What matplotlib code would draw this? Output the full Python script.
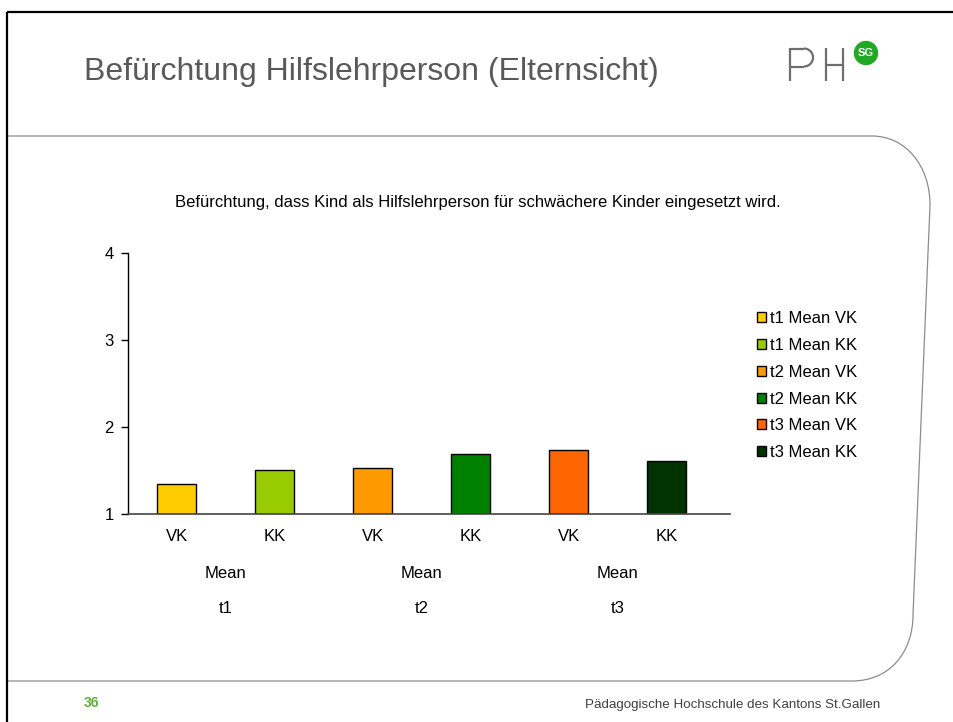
import matplotlib.pyplot as plt
import numpy as np
from matplotlib.path import Path
from matplotlib.patches import PathPatch, Circle

plt.rcParams['font.family'] = ['Liberation Sans', 'DejaVu Sans']

# data
groups = ['t1', 't2', 't3']
subgroups = ['VK', 'KK']
series = ['t1 Mean VK', 't1 Mean KK', 't2 Mean VK', 't2 Mean KK', 't3 Mean VK', 't3 Mean KK']
means = [1.34, 1.51, 1.53, 1.69, 1.74, 1.61]
bar_colors = ['#FFCC00', '#99CC00', '#FF9900', '#008000', '#FF6600', '#003300']

W, H = 954, 722
fig = plt.figure(figsize=(W / 100, H / 100), dpi=100)

# slide decoration layer (pixel coordinates)
ov = fig.add_axes([0, 0, 1, 1], zorder=0)
ov.set_xlim(0, W)
ov.set_ylim(H, 0)
ov.axis('off')
ov.plot([7, W], [12, 12], color='black', lw=1.6, solid_capstyle='butt')
ov.plot([7, 7], [12, H], color='black', lw=1.6, solid_capstyle='butt')
verts = [(7, 136), (872, 136),
         (905, 136), (930, 165), (930, 205),
         (913, 615),
         (913, 652), (890, 681), (852, 681),
         (7, 681)]
codes = [Path.MOVETO, Path.LINETO,
         Path.CURVE4, Path.CURVE4, Path.CURVE4,
         Path.LINETO,
         Path.CURVE4, Path.CURVE4, Path.CURVE4,
         Path.LINETO]
ov.add_patch(PathPatch(Path(verts, codes), facecolor='none', edgecolor='#8c8c8c', lw=0.9))

ov.text(84, 72, 'Befürchtung Hilfslehrperson (Elternsicht)', fontsize=23,
        color='#595959', ha='left', va='center')

# PH logo
lg = dict(color='#6e6e6e', lw=1.6, solid_capstyle='butt')
ov.plot([790, 790], [48, 81], **lg)
ov.plot([790, 804], [48.5, 48.5], **lg)
t = np.linspace(-np.pi / 2, np.pi / 2, 30)
ov.plot(804 + 9 * np.cos(t), 57.5 + 9 * np.sin(t), **lg)
ov.plot([790, 804], [66.5, 66.5], **lg)
ov.plot([826, 826], [48, 81], **lg)
ov.plot([843, 843], [48, 81], **lg)
ov.plot([826, 843], [65, 65], **lg)
ov.add_patch(Circle((866, 53), 11.5, color='#22A922'))
ov.text(866, 53.5, 'SG', color='white', fontsize=8, fontweight='bold', ha='center', va='center')

# footer
ov.text(84, 703, '36', color='#5DB030', fontsize=10, fontweight='bold', ha='left', va='center')
ov.text(880, 705, 'Pädagogische Hochschule des Kantons St.Gallen', color='#404040',
        fontsize=9.6, ha='right', va='center')

# chart subtitle
ov.text(478, 202, 'Befürchtung, dass Kind als Hilfslehrperson für schwächere Kinder eingesetzt wird.',
        fontsize=12, color='black', ha='center', va='center')

# chart
ax = fig.add_axes([127.7 / W, 1 - 514 / H, (730 - 127.7) / W, (514 - 253.3) / H], zorder=1)
ax.patch.set_alpha(0)
x = np.arange(len(means))
bars = ax.bar(x, np.array(means) - 1, bottom=1, width=0.4, color=bar_colors,
              edgecolor='black', linewidth=1.0)
ax.set_ylim(1, 4)
ax.set_xlim(-0.5, 5.646)
ax.set_yticks([1, 2, 3, 4])
ax.tick_params(axis='y', labelsize=12, length=5, width=1, pad=5, colors='black')
ax.set_xticks([])
for s in ['top', 'right']:
    ax.spines[s].set_visible(False)
ax.spines['left'].set_linewidth(1)
ax.spines['bottom'].set_linewidth(1.2)
ax.spines['bottom'].set_color('#444444')

xt = ax.get_xaxis_transform()
for i in x:
    ax.text(i, -0.088, subgroups[i % 2], transform=xt, ha='center', va='center', fontsize=12)
for g, name in enumerate(groups):
    cx = 2 * g + 0.5
    ax.text(cx, -0.230, 'Mean', transform=xt, ha='center', va='center', fontsize=12)
    ax.text(cx, -0.361, name, transform=xt, ha='center', va='center', fontsize=12)

fig.legend(bars, series, loc='upper left', bbox_to_anchor=(757 / W, 1 - 311 / H),
           frameon=False, fontsize=12, handlelength=0.55, handleheight=0.55,
           handletextpad=0.25, labelspacing=0.71, borderpad=0, borderaxespad=0)

fig.savefig('out.png', dpi=100)
